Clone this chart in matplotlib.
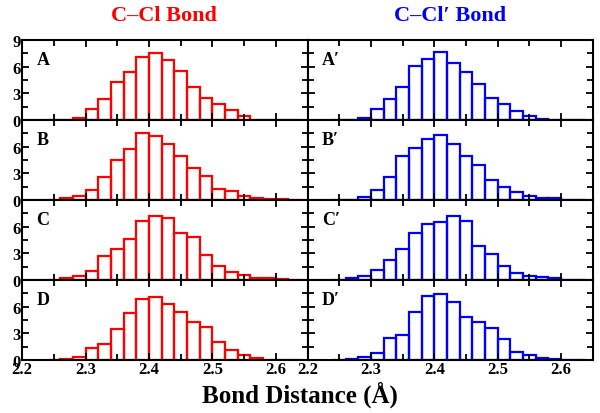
import matplotlib
matplotlib.use("Agg")
import matplotlib.pyplot as plt
from matplotlib.ticker import MultipleLocator

# bin left edges (Angstrom), width 0.02
bin_left = [2.24, 2.26, 2.28, 2.30, 2.32, 2.34, 2.36, 2.38, 2.40, 2.42,
            2.44, 2.46, 2.48, 2.50, 2.52, 2.54, 2.56, 2.58, 2.60, 2.62]
bin_width = 0.02

# C-Cl bond distributions
A = [0, 0.05, 0.2, 1.2, 2.35, 4.3, 5.4, 7.1, 7.5, 6.8, 5.5, 3.7, 2.5, 1.8, 1.1, 0.4, 0.05, 0.03, 0, 0]
B = [0, 0.2, 0.45, 1.1, 2.55, 4.45, 5.7, 7.5, 7.2, 6.25, 5.0, 3.65, 2.7, 1.2, 1.0, 0.45, 0.25, 0.08, 0.08, 0]
C = [0.03, 0.2, 0.45, 1.0, 2.7, 3.5, 4.65, 6.65, 7.25, 6.95, 5.3, 4.85, 2.8, 1.6, 0.85, 0.6, 0.25, 0.22, 0.07, 0]
D = [0.03, 0.1, 0.3, 1.4, 1.75, 3.45, 5.3, 6.9, 7.05, 6.25, 5.45, 4.3, 3.7, 2.0, 1.15, 0.6, 0.22, 0.03, 0, 0]

# C-Cl' bond distributions
A_p = [0.05, 0.05, 0.25, 1.25, 2.35, 3.7, 6.1, 6.85, 7.6, 6.4, 5.4, 4.05, 2.5, 1.75, 1.05, 0.4, 0.1, 0, 0, 0]
B_p = [0, 0.05, 0.3, 1.1, 2.6, 4.9, 5.9, 6.9, 7.35, 6.35, 5.0, 3.9, 2.3, 1.5, 0.85, 0.45, 0.2, 0.2, 0.05, 0]
C_p = [0, 0.22, 0.5, 1.1, 2.25, 3.5, 5.25, 6.25, 6.5, 7.25, 6.6, 3.8, 2.9, 1.55, 0.8, 0.45, 0.38, 0.25, 0, 0]
D_p = [0, 0.1, 0.35, 0.8, 2.5, 2.8, 5.35, 7.15, 7.4, 6.5, 4.85, 4.25, 3.6, 2.4, 0.85, 0.55, 0.22, 0.1, 0, 0]

left_series = [A, B, C, D]
right_series = [A_p, B_p, C_p, D_p]
left_labels = ["A", "B", "C", "D"]
right_labels = ["A\u2032", "B\u2032", "C\u2032", "D\u2032"]
x_ticks = [2.2, 2.3, 2.4, 2.5, 2.6]
y_ticks = [0, 3, 6, 9]

serif = ["Liberation Serif", "DejaVu Serif"]
plt.rcParams["font.family"] = serif
plt.rcParams["font.weight"] = "bold"

fig, axes = plt.subplots(4, 2, figsize=(6.0, 4.14), dpi=100, sharex=True)
fig.subplots_adjust(left=0.037, right=0.988, top=0.901, bottom=0.128,
                    wspace=0, hspace=0)

for col, (series, labels, color) in enumerate(
        [(left_series, left_labels, "#ff0000"), (right_series, right_labels, "#0000ff")]):
    for row in range(4):
        ax = axes[row, col]
        ax.bar(bin_left, series[row], width=bin_width, align="edge",
               fill=False, edgecolor=color, linewidth=1.6)
        ax.set_xlim(2.2, 2.65)
        ax.set_ylim(0, 9)
        ax.set_xticks(x_ticks)
        ax.xaxis.set_minor_locator(MultipleLocator(0.05))
        ax.set_yticks(y_ticks)
        ax.yaxis.set_minor_locator(MultipleLocator(1.5))
        ax.tick_params(which="both", direction="in", top=True, right=True,
                       width=1.3, labelsize=12, pad=1)
        ax.tick_params(which="major", length=5)
        ax.tick_params(which="minor", length=4)
        for sp in ax.spines.values():
            sp.set_linewidth(1.5)
        if col == 0:
            if row == 0:
                ax.set_yticklabels(["0", "3", "6", "9"])
            else:
                ax.set_yticklabels(["0", "3", "6", ""])
        else:
            ax.tick_params(labelleft=False)
        if row == 3:
            ax.set_xticklabels(["2.2", "2.3", "2.4", "2.5", "2.6"])
        ax.text(0.05, 0.86, labels[row], transform=ax.transAxes,
                fontsize=13, fontweight="bold", va="top", ha="left",
                family=serif)

fig.text(0.274, 0.961, "C\u2013Cl Bond", color="#ff0000", fontsize=16,
         fontweight="bold", ha="center", va="center")
fig.text(0.75, 0.961, "C\u2013Cl\u2032 Bond", color="#0000ff", fontsize=16,
         fontweight="bold", ha="center", va="center")
fig.text(0.5, 0.046, "Bond Distance (\u00c5)", fontsize=18,
         fontweight="bold", ha="center", va="center")

fig.savefig("out.png", dpi=100)
